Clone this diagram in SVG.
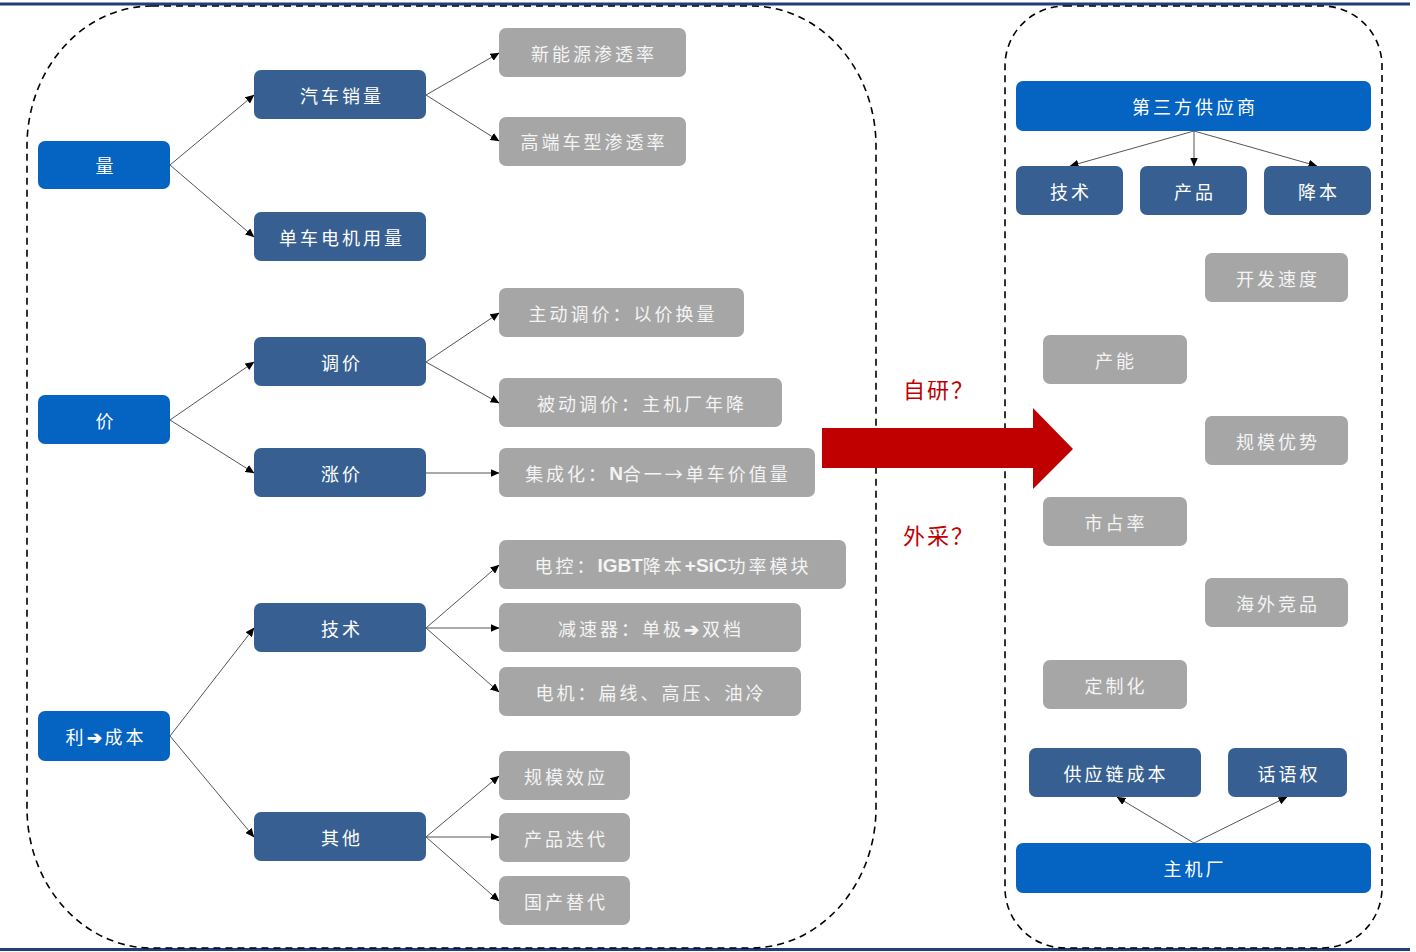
<svg xmlns="http://www.w3.org/2000/svg" width="1416" height="952" viewBox="0 0 1416 952">
<defs>
<marker id="ah" markerWidth="9" markerHeight="8" refX="8.5" refY="4" orient="auto" markerUnits="userSpaceOnUse">
<path d="M0,0 L9,4 L0,8 Z" fill="#000"/>
</marker>
<style>
.b1{fill:#0563c1;}
.b2{fill:#375f91;}
.g{fill:#a6a6a6;}
.t{font-family:"Noto Sans CJK SC","Noto Sans",sans-serif;font-size:18px;fill:#fff;text-anchor:middle;dominant-baseline:central;letter-spacing:3px;}
.tg{fill:#f4f4f4;}
.lat{font-family:"Liberation Sans","Noto Sans",sans-serif;font-weight:bold;letter-spacing:0px;font-size:19px;}
.c{stroke:#555;stroke-width:1;fill:none;marker-end:url(#ah);}
.dash{fill:none;stroke:#000;stroke-width:1.6;stroke-dasharray:7 5;}
.red{font-family:"Noto Sans CJK SC","Noto Sans",sans-serif;font-size:22px;fill:#c00000;text-anchor:middle;dominant-baseline:central;letter-spacing:2px;}
</style>
</defs>
<rect width="1416" height="952" fill="#fff"/>
<line x1="0" y1="4" x2="1410" y2="4" stroke="#1f3f7a" stroke-width="3"/>
<line x1="0" y1="949.5" x2="1410" y2="949.5" stroke="#1f3f7a" stroke-width="3"/>
<rect class="dash" x="27" y="6" width="849" height="942" rx="125" ry="140"/>
<rect class="dash" x="1005" y="6" width="377" height="942" rx="60" ry="60"/>

<g id="connectors">
<line class="c" x1="170" y1="165" x2="254" y2="95"/>
<line class="c" x1="170" y1="165" x2="254" y2="237"/>
<line class="c" x1="426" y1="95" x2="499" y2="53"/>
<line class="c" x1="426" y1="95" x2="499" y2="141"/>
<line class="c" x1="170" y1="420" x2="254" y2="362"/>
<line class="c" x1="170" y1="420" x2="254" y2="473"/>
<line class="c" x1="426" y1="362" x2="499" y2="313"/>
<line class="c" x1="426" y1="362" x2="499" y2="403"/>
<line class="c" x1="426" y1="473" x2="499" y2="473"/>
<line class="c" x1="170" y1="736" x2="254" y2="628"/>
<line class="c" x1="170" y1="736" x2="254" y2="837"/>
<line class="c" x1="426" y1="628" x2="499" y2="565"/>
<line class="c" x1="426" y1="628" x2="499" y2="628"/>
<line class="c" x1="426" y1="628" x2="499" y2="692"/>
<line class="c" x1="426" y1="837" x2="499" y2="776"/>
<line class="c" x1="426" y1="837" x2="499" y2="837"/>
<line class="c" x1="426" y1="837" x2="499" y2="901"/>
<line class="c" x1="1194" y1="131" x2="1070" y2="166"/>
<line class="c" x1="1194" y1="131" x2="1194" y2="166"/>
<line class="c" x1="1194" y1="131" x2="1317" y2="166"/>
<line class="c" x1="1194" y1="843" x2="1117" y2="797"/>
<line class="c" x1="1194" y1="843" x2="1287" y2="797"/>
</g>

<g id="big-arrow">
<polygon points="822,428 1033,428 1033,408 1073,449 1033,489 1033,468 822,468" fill="#c00000"/>
</g>
<text class="red" x="939" y="388">自研？</text>
<text class="red" x="939" y="534">外采？</text>

<g id="n-liang"><rect class="b1" x="38" y="141" width="132" height="48" rx="7"/><text class="t" x="106" y="165">量</text></g>
<g id="n-jia"><rect class="b1" x="38" y="395" width="132" height="49" rx="7"/><text class="t" x="106" y="420">价</text></g>
<g id="n-li"><rect class="b1" x="38" y="711" width="132" height="50" rx="7"/><text class="t" x="106" y="736">利<tspan font-weight="bold">➔</tspan>成本</text></g>

<g id="n-qcxl"><rect class="b2" x="254" y="70" width="172" height="49" rx="7"/><text class="t" x="342" y="95">汽车销量</text></g>
<g id="n-dcdj"><rect class="b2" x="254" y="212" width="172" height="49" rx="7"/><text class="t" x="342" y="237">单车电机用量</text></g>
<g id="n-tiaojia"><rect class="b2" x="254" y="337" width="172" height="49" rx="7"/><text class="t" x="342" y="362">调价</text></g>
<g id="n-zhangjia"><rect class="b2" x="254" y="448" width="172" height="49" rx="7"/><text class="t" x="342" y="473">涨价</text></g>
<g id="n-jishu"><rect class="b2" x="254" y="603" width="172" height="49" rx="7"/><text class="t" x="342" y="628">技术</text></g>
<g id="n-qita"><rect class="b2" x="254" y="812" width="172" height="49" rx="7"/><text class="t" x="342" y="837">其他</text></g>

<g id="n-xny"><rect class="g" x="499" y="28" width="187" height="49" rx="7"/><text class="t tg" x="594" y="53">新能源渗透率</text></g>
<g id="n-gdcx"><rect class="g" x="499" y="117" width="187" height="49" rx="7"/><text class="t tg" x="594" y="141">高端车型渗透率</text></g>
<g id="n-zdtj"><rect class="g" x="499" y="288" width="245" height="49" rx="7"/><text class="t tg" x="623" y="313">主动调价：以价换量</text></g>
<g id="n-bdtj"><rect class="g" x="499" y="378" width="283" height="49" rx="7"/><text class="t tg" x="642" y="403">被动调价：主机厂年降</text></g>
<g id="n-jch"><rect class="g" x="499" y="448" width="316" height="49" rx="7"/><text class="t tg" x="658" y="473">集成化：<tspan class="lat">N</tspan>合一→单车价值量</text></g>
<g id="n-dk"><rect class="g" x="499" y="540" width="347" height="49" rx="7"/><text class="t tg" x="673" y="565">电控：<tspan class="lat">IGBT</tspan>降本<tspan class="lat">+SiC</tspan>功率模块</text></g>
<g id="n-jsq"><rect class="g" x="499" y="603" width="302" height="49" rx="7"/><text class="t tg" x="651" y="628">减速器：单极<tspan font-weight="bold">➔</tspan>双档</text></g>
<g id="n-dj"><rect class="g" x="499" y="667" width="302" height="49" rx="7"/><text class="t tg" x="651" y="692">电机：扁线、高压、油冷</text></g>
<g id="n-gmxy"><rect class="g" x="499" y="751" width="131" height="49" rx="7"/><text class="t tg" x="566" y="776">规模效应</text></g>
<g id="n-cpdd"><rect class="g" x="499" y="813" width="131" height="49" rx="7"/><text class="t tg" x="566" y="838">产品迭代</text></g>
<g id="n-gctd"><rect class="g" x="499" y="876" width="131" height="49" rx="7"/><text class="t tg" x="566" y="901">国产替代</text></g>

<g id="n-dsf"><rect class="b1" x="1016" y="81" width="355" height="50" rx="7"/><text class="t" x="1195" y="106">第三方供应商</text></g>
<g id="n-r-jishu"><rect class="b2" x="1016" y="166" width="107" height="49" rx="7"/><text class="t" x="1071" y="191">技术</text></g>
<g id="n-r-chanpin"><rect class="b2" x="1140" y="166" width="107" height="49" rx="7"/><text class="t" x="1195" y="191">产品</text></g>
<g id="n-r-jiangben"><rect class="b2" x="1264" y="166" width="107" height="49" rx="7"/><text class="t" x="1319" y="191">降本</text></g>
<g id="n-kfsd"><rect class="g" x="1205" y="253" width="143" height="49" rx="7"/><text class="t tg" x="1278" y="278">开发速度</text></g>
<g id="n-cn"><rect class="g" x="1043" y="335" width="144" height="49" rx="7"/><text class="t tg" x="1116" y="360">产能</text></g>
<g id="n-gmys"><rect class="g" x="1205" y="416" width="143" height="49" rx="7"/><text class="t tg" x="1278" y="441">规模优势</text></g>
<g id="n-szl"><rect class="g" x="1043" y="497" width="144" height="49" rx="7"/><text class="t tg" x="1116" y="522">市占率</text></g>
<g id="n-hwjp"><rect class="g" x="1205" y="578" width="143" height="49" rx="7"/><text class="t tg" x="1278" y="603">海外竞品</text></g>
<g id="n-dzh"><rect class="g" x="1043" y="660" width="144" height="49" rx="7"/><text class="t tg" x="1116" y="685">定制化</text></g>
<g id="n-gylcb"><rect class="b2" x="1029" y="748" width="172" height="49" rx="7"/><text class="t" x="1116" y="773">供应链成本</text></g>
<g id="n-hyq"><rect class="b2" x="1228" y="748" width="119" height="49" rx="7"/><text class="t" x="1289" y="773">话语权</text></g>
<g id="n-zjc"><rect class="b1" x="1016" y="843" width="355" height="50" rx="7"/><text class="t" x="1195" y="868">主机厂</text></g>
</svg>
